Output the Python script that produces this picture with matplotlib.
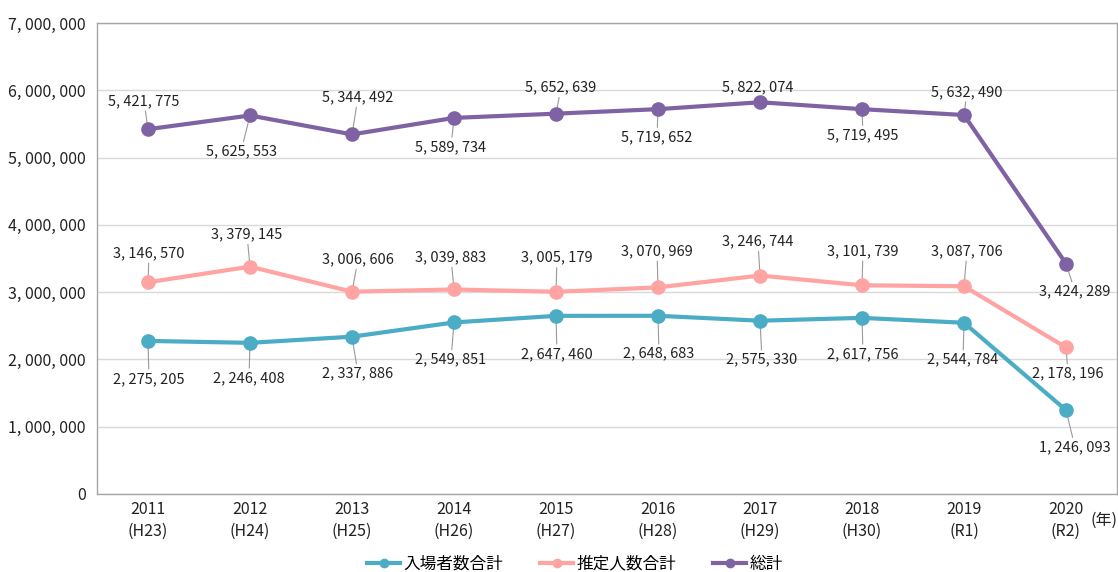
import matplotlib
matplotlib.use("Agg")
import matplotlib.pyplot as plt
from matplotlib.lines import Line2D

plt.rcParams['font.family'] = ['Noto Sans CJK JP', 'DejaVu Sans']

years = ["2011", "2012", "2013", "2014", "2015", "2016", "2017", "2018", "2019", "2020"]
eras = ["(H23)", "(H24)", "(H25)", "(H26)", "(H27)", "(H28)", "(H29)", "(H30)", "(R1)", "(R2)"]
visitors = [2275205, 2246408, 2337886, 2549851, 2647460, 2648683, 2575330, 2617756, 2544784, 1246093]
estimated = [3146570, 3379145, 3006606, 3039883, 3005179, 3070969, 3246744, 3101739, 3087706, 2178196]
total = [5421775, 5625553, 5344492, 5589734, 5652639, 5719652, 5822074, 5719495, 5632490, 3424289]
series_names = ["入場者数合計", "推定人数合計", "総計"]
colors = ["#4BACC6", "#FFA3A3", "#7F62A3"]

# label offsets in pixels (dx, dy), positive dy = up
off_visitors = [(1, -38), (-1, -35), (6, -37), (-3, -37), (1, -38), (1, -38), (2, -39), (1, -36), (-1, -37), (9, -37)]
off_estimated = [(1, 29), (-3, 32), (6, 32), (-3, 32), (1, 34), (-1, 36), (-2, 34), (1, 34), (3, 35), (2, -26)]
off_total = [(-4, 28), (-9, -36), (6, 37), (-3, -29), (5, 26), (-1, -28), (-2, 15), (1, -26), (3, 23), (9, -28)]

def fmt(v):
    return f"{v:,}".replace(",", ", ")

fig = plt.figure(figsize=(11.18, 5.72), dpi=100)
ax = fig.add_axes([97/1118, 1-494/572, 1020/1118, (494-23)/572])

x = list(range(len(years)))
for vals, col, offs, name in [(visitors, colors[0], off_visitors, series_names[0]),
                              (estimated, colors[1], off_estimated, series_names[1]),
                              (total, colors[2], off_total, series_names[2])]:
    ax.plot(x, vals, color=col, lw=3, marker='o', markersize=9.5, zorder=3, label=name,
            solid_capstyle='round')
    for xi, v, (dx, dy) in zip(x, vals, offs):
        ax.annotate(fmt(v), xy=(xi, v), xytext=(dx*0.72, dy*0.72), textcoords='offset points',
                    ha='center', va='center', fontsize=10.5, color='#222222',
                    arrowprops=dict(arrowstyle='-', color='#999999', lw=0.8,
                                    shrinkA=0, shrinkB=0),
                    zorder=2)

ax.set_xlim(-0.5, len(years) - 0.5)
ax.set_ylim(0, 7000000)
yt = list(range(0, 7000001, 1000000))
ax.set_yticks(yt)
ax.set_yticklabels([fmt(v) for v in yt], fontsize=11.5, color='#222222')
ax.set_xticks(x)
ax.set_xticklabels([f"{y}\n{e}" for y, e in zip(years, eras)], fontsize=11.5,
                   color='#222222', linespacing=1.35)
ax.tick_params(axis='x', length=0, pad=5)
ax.tick_params(axis='y', length=0, pad=8)
ax.grid(axis='y', color='#D9D9D9', lw=1)
ax.set_axisbelow(True)
for s in ax.spines.values():
    s.set_color('#A6A6A6')
    s.set_linewidth(1)

fig.text(1090/1118, 1-520/572, "(年)", ha='left', va='center', fontsize=11.5, color='#222222')

handles = [Line2D([0], [0], color=c, lw=3, marker='o', markersize=6) for c in colors]
fig.legend(handles, series_names, loc='center', bbox_to_anchor=(575/1118, 1-564/572),
           ncol=3, frameon=False, fontsize=12, handlelength=2.0, handletextpad=0.2,
           columnspacing=2.2)

fig.savefig("out.png", dpi=100)
